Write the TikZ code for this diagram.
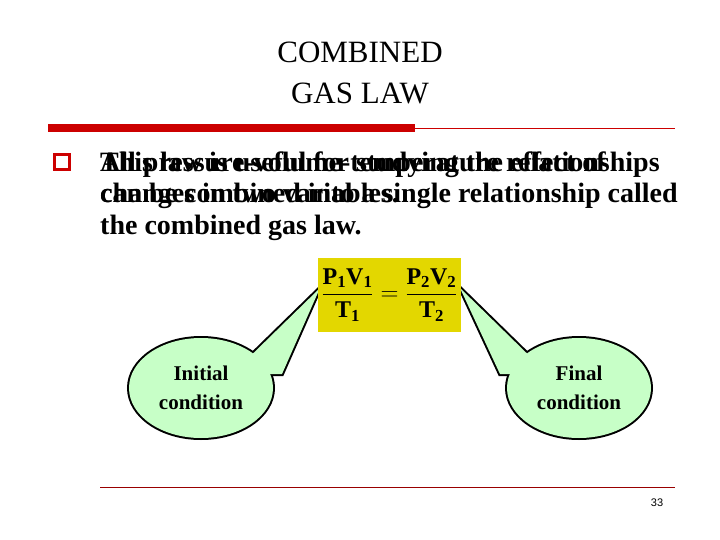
\documentclass[tikz,border=0pt]{standalone}
\usepackage{fontspec}
\setmainfont{Liberation Serif}
\newfontfamily\sansf{Liberation Sans}
\begin{document}
\begin{tikzpicture}[x=1pt,y=-1pt,
  body/.style={anchor=base west,inner sep=0,font=\fontsize{28}{28}\selectfont\bfseries},
  bubble/.style={draw=black,line width=4pt},
  bfill/.style={fill=green!22},
  lbl/.style={font=\fontsize{21}{29}\selectfont\bfseries,align=center}]
\useasboundingbox (0,0) rectangle (720,540);
\fill[white] (0,0) rectangle (720,540);
\node[font=\fontsize{31}{41}\selectfont,align=center] (title) at (360,73) {COMBINED\\GAS LAW};
\fill[red!80!black] (48,124) rectangle (415,132);
\draw[red!80!black,line width=0.8pt] (415,128) -- (675,128);
\node[draw=red!80!black,fill=white,line width=2.2pt,minimum size=15pt,inner sep=0] (bul) at (62,162) {};
\node[body] (t1) at (100,172) {This law is useful for studying the effect of};
\node[body] (t2) at (100,203) {changes in two variables.};
\node[body] (a1) at (100,172) {All pressure-volume-temperature relationships};
\node[body] (a2) at (100,203) {can be combined into a single relationship called};
\node[body] (a3) at (100,234) {the combined gas law.};
% callouts
\coordinate (lt) at (320,288);
\coordinate (rt) at (460,288);
\draw[bubble] (lt) -- (232,374) -- (282,374) -- cycle;
\draw[bubble] (201,388) ellipse (72 and 50);
\fill[bfill] (201,388) ellipse (72 and 50);
\fill[bfill] (lt) -- (232,374) -- (282,374) -- cycle;
\draw[bubble] (rt) -- (500,374) -- (548,374) -- cycle;
\draw[bubble] (579,388) ellipse (72 and 50);
\fill[bfill] (579,388) ellipse (72 and 50);
\fill[bfill] (rt) -- (500,374) -- (548,374) -- cycle;
\node[lbl] (ini) at (201,388) {Initial\\condition};
\node[lbl] (fin) at (579,388) {Final\\condition};
\node[fill=yellow!75!olive,minimum width=143pt,minimum height=74pt,inner sep=0,font=\fontsize{24}{24}\selectfont\bfseries] (eq) at (389.5,295)
 {$\displaystyle\frac{\mathbf{P_1V_1}}{\mathbf{T_1}}=\frac{\mathbf{P_2V_2}}{\mathbf{T_2}}$};
\draw[red!60!black,line width=0.6pt] (100,487) -- (675,487);
\node[font=\sansf\fontsize{11}{12}\selectfont] (pg) at (657,503) {33};
\end{tikzpicture}
\end{document}
